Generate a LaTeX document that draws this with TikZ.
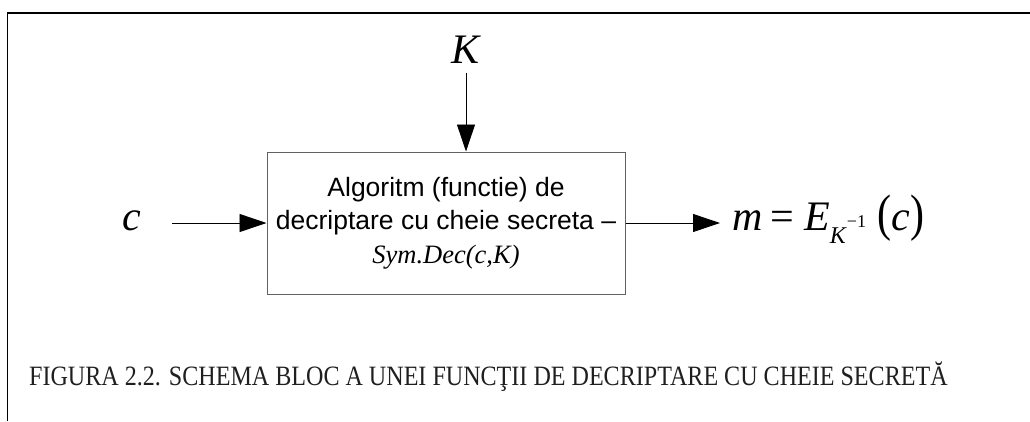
\documentclass[tikz,border=0pt]{standalone}
\usepackage{fontspec}
\setmainfont{Liberation Serif}
\newfontfamily\arialfont{Liberation Sans}
\newfontfamily\capfont[FakeStretch=0.86]{Liberation Serif}
\usetikzlibrary{arrows.meta,positioning}

\tikzset{
  blockbox/.style={draw=black!62, line width=1pt, minimum width=358pt, minimum height=142pt,
    align=center, inner sep=0pt, font={\arialfont\fontsize{26.5}{33.5}\selectfont}},
  flow/.style={draw, line width=0.9pt, -{Triangle[length=27pt,width=18pt]}},
  bigvar/.style={font={\fontsize{42}{42}\selectfont\itshape}, anchor=base},
}

\begin{document}
\begin{tikzpicture}[x=1pt,y=-1pt]
    \useasboundingbox (0,0) rectangle (1030,421);

    % Page frame (top and left edge)
    \draw[line width=1.8pt] (7.5,421) -- (7.5,13) -- (1030,13);

    % Decryption block
    \node[blockbox] (dec) at (446,223) {Algoritm (functie) de\\
      decriptare cu cheie secreta –\\
      {\rmfamily\itshape Sym.Dec(c,K)}};

    % Key from above
    \node[bigvar] (key) at (466,63) {K};
    \draw[flow, shorten <=6pt] (key.south) -- (key.south |- dec.north);

    % Ciphertext in
    \node[bigvar] (cin) at (132,230) {c};
    \draw[flow, shorten <=27pt] (cin.east |- dec.west) -- (dec.west);

    % Plaintext out
    \node[anchor=base west, inner xsep=12pt, font={\fontsize{42}{42}\selectfont}] (out) at (720,230)
      {\textit{m}\hspace{0.18em}=\hspace{0.25em}\textit{E}\raisebox{-13pt}{\fontsize{24}{24}\selectfont\textit{K}\raisebox{16pt}{\fontsize{18}{18}\selectfont −1}}\hspace{0.27em}\scalebox{1}[1.22]{(}\textit{c}\scalebox{1}[1.22]{)}};
    \draw[flow] (dec.east) -- (dec.east -| out.west);

    % Caption
    \node[anchor=base west, inner sep=0pt, font={\capfont\fontsize{28}{28}\selectfont}, text=black!88] (cap) at (29,385)
      {FIGURA 2.2. SCHEMA BLOC A UNEI FUNCŢII DE DECRIPTARE CU CHEIE SECRETĂ};
\end{tikzpicture}
\end{document}
